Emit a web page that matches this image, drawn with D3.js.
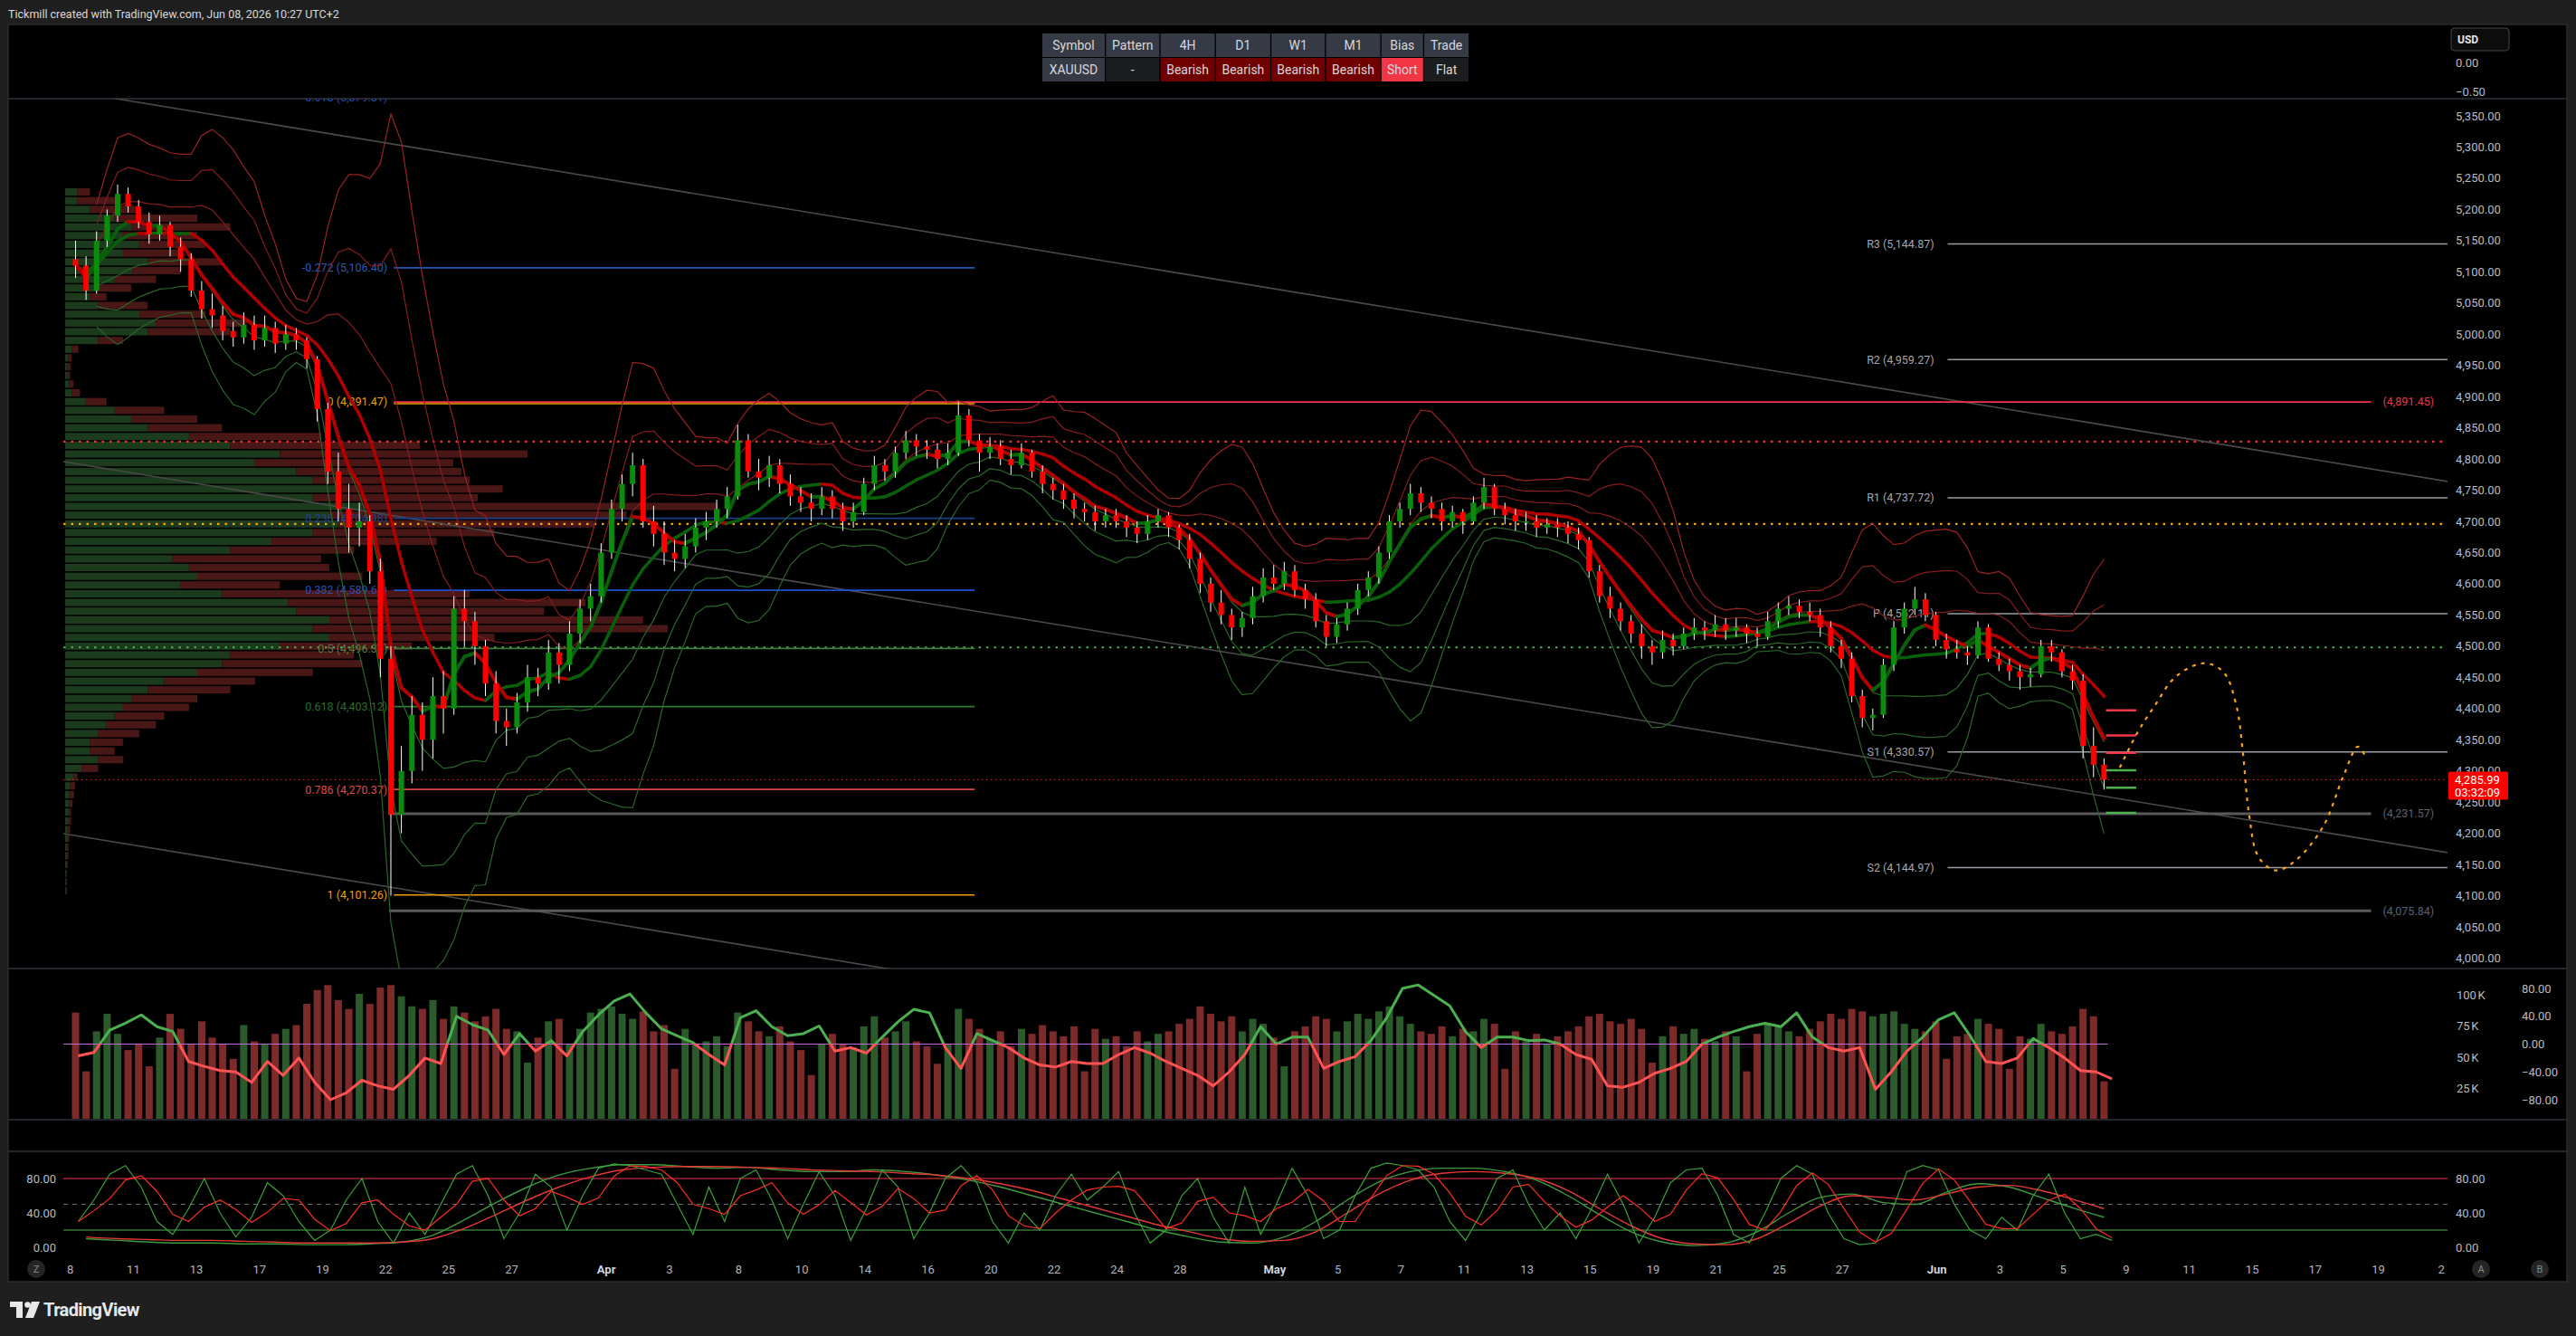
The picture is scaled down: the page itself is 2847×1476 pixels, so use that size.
<!DOCTYPE html>
<html><head><meta charset="utf-8">
<script src="https://cdn.jsdelivr.net/npm/d3@7"></script>
<style>
html,body{margin:0;padding:0;background:#1f1f1f;overflow:hidden;}
svg{display:block;font-family:Roboto,"Noto Sans",sans-serif;}
</style></head><body>
<svg id="c" width="2847" height="1476"></svg>
<script>
// ---------------- DATA ----------------
// 8-hour candles [open, high, low, close]
const candles = [
[5120,5150,5090,5110],[5110,5125,5055,5070],[5070,5165,5065,5150],
[5150,5200,5140,5190],[5190,5240,5180,5225],[5225,5235,5195,5205],
[5205,5215,5170,5180],[5180,5195,5145,5160],[5160,5190,5150,5175],
[5175,5180,5125,5140],[5140,5155,5100,5120],[5120,5130,5060,5070],
[5070,5085,5025,5040],[5040,5065,5010,5030],[5030,5045,4990,5005],
[5005,5020,4980,4995],[4995,5035,4985,5015],[5015,5030,4975,4990],
[4990,5030,4980,5010],[5010,5020,4970,4985],[4985,5015,4975,5000],
[5000,5010,4975,4990],[4990,4995,4945,4960],[4960,4965,4860,4880],
[4880,4890,4760,4780],[4780,4810,4700,4720],[4720,4760,4650,4690],
[4690,4730,4660,4700],[4700,4710,4600,4620],[4620,4640,4450,4480],
[4480,4500,4100,4230],[4230,4340,4200,4300],[4300,4420,4280,4390],
[4390,4410,4300,4350],[4350,4450,4320,4420],[4420,4460,4360,4400],
[4400,4580,4390,4560],[4560,4590,4500,4540],[4540,4555,4470,4500],
[4500,4510,4420,4440],[4440,4460,4360,4380],[4380,4400,4340,4370],
[4370,4425,4360,4410],[4410,4470,4395,4450],[4450,4465,4420,4440],
[4440,4510,4430,4490],[4490,4505,4440,4470],[4470,4540,4460,4520],
[4520,4575,4505,4560],[4560,4600,4540,4580],[4580,4665,4570,4650],
[4650,4735,4640,4720],[4720,4775,4700,4760],[4760,4810,4740,4790],
[4790,4800,4690,4700],[4700,4725,4660,4680],[4680,4700,4630,4650],
[4650,4670,4620,4640],[4640,4680,4625,4660],[4660,4705,4650,4690],
[4690,4715,4670,4700],[4700,4735,4690,4720],[4720,4755,4705,4740],
[4740,4855,4735,4830],[4830,4840,4770,4780],[4780,4800,4750,4770],
[4770,4805,4755,4790],[4790,4800,4745,4760],[4760,4775,4725,4740],
[4740,4755,4715,4730],[4730,4745,4700,4720],[4720,4755,4710,4740],
[4740,4750,4705,4720],[4720,4730,4685,4700],[4700,4730,4690,4715],
[4715,4770,4710,4760],[4760,4805,4750,4790],[4790,4800,4765,4780],
[4780,4820,4770,4810],[4810,4845,4800,4830],[4830,4840,4805,4820],
[4820,4830,4800,4815],[4815,4825,4785,4800],[4800,4825,4790,4810],
[4810,4892,4805,4870],[4870,4880,4820,4830],[4830,4840,4780,4810],
[4810,4835,4800,4820],[4820,4830,4790,4800],[4800,4815,4775,4790],
[4790,4825,4785,4810],[4810,4815,4770,4780],[4780,4790,4745,4760],
[4760,4770,4735,4750],[4750,4760,4720,4735],[4735,4745,4705,4720],
[4720,4730,4700,4715],[4715,4725,4685,4700],[4700,4720,4690,4710],
[4710,4720,4690,4700],[4700,4710,4675,4690],[4690,4700,4665,4680],
[4680,4710,4670,4700],[4700,4720,4690,4710],[4710,4715,4675,4690],
[4690,4695,4655,4670],[4670,4680,4625,4640],[4640,4650,4585,4600],
[4600,4610,4555,4570],[4570,4590,4535,4550],[4550,4560,4510,4530],
[4530,4555,4515,4545],[4545,4595,4535,4580],[4580,4625,4570,4610],
[4610,4630,4590,4600],[4600,4635,4590,4620],[4620,4630,4580,4590],
[4590,4600,4560,4575],[4575,4585,4530,4540],[4540,4550,4500,4515],
[4515,4545,4505,4535],[4535,4570,4525,4560],[4560,4600,4550,4590],
[4590,4620,4580,4610],[4610,4660,4600,4650],[4650,4710,4640,4700],
[4700,4730,4690,4720],[4720,4760,4710,4745],[4745,4755,4715,4730],
[4730,4740,4705,4720],[4720,4730,4685,4700],[4700,4725,4690,4715],
[4715,4720,4680,4700],[4700,4740,4695,4730],[4730,4770,4720,4755],
[4755,4760,4710,4720],[4720,4730,4695,4710],[4710,4720,4685,4700],
[4700,4715,4685,4700],[4700,4710,4675,4690],[4690,4705,4680,4695],
[4695,4705,4675,4690],[4690,4700,4665,4680],[4680,4690,4655,4670],
[4670,4675,4610,4620],[4620,4630,4570,4580],[4580,4595,4545,4560],
[4560,4570,4525,4540],[4540,4550,4505,4520],[4520,4535,4480,4500],
[4500,4510,4470,4490],[4490,4525,4480,4510],[4510,4520,4485,4500],
[4500,4530,4495,4520],[4520,4545,4510,4530],[4530,4540,4510,4525],
[4525,4550,4515,4535],[4535,4545,4510,4525],[4525,4545,4515,4530],
[4530,4535,4505,4520],[4520,4530,4500,4515],[4515,4555,4510,4540],
[4540,4570,4530,4560],[4560,4580,4550,4565],[4565,4575,4545,4555],
[4555,4570,4540,4550],[4550,4560,4515,4530],[4530,4540,4490,4500],
[4500,4510,4465,4480],[4480,4490,4410,4420],[4420,4430,4370,4385],
[4385,4400,4365,4390],[4390,4480,4385,4470],[4470,4540,4460,4530],
[4530,4570,4520,4560],[4560,4595,4550,4575],[4575,4585,4540,4550],
[4550,4555,4500,4510],[4510,4520,4480,4495],[4495,4510,4480,4490],
[4490,4500,4470,4485],[4485,4540,4480,4530],[4530,4535,4475,4480],
[4480,4490,4460,4470],[4470,4480,4445,4460],[4460,4470,4430,4450],
[4450,4465,4435,4455],[4455,4510,4450,4500],[4500,4510,4475,4490],
[4490,4495,4450,4460],[4460,4470,4430,4445],[4445,4455,4320,4340],
[4340,4370,4290,4310],[4310,4320,4270,4285.99]
];
// volume per candle (thousands)
const volumes = [
85,38,70, 84,68,55, 60,42,65, 84,72,60, 78,65,60, 48,75,62, 60,68,72, 75,92,103,
107,95,88, 100,92,105, 107,98,90, 88,95,80, 90,85,78, 82,88,72, 70,45,65, 78,80,60,
72,85,88, 90,84,80, 86,70,75, 40,72,60, 62,66,58, 85,78,70, 66,74,62, 55,35,60,
68,60,57, 74,82,65, 70,78,62, 58,44,60, 88,80,72, 64,70,58, 72,68,75, 70,66,74,
38,72,64, 66,58,70, 62,68,70, 76,80,90, 84,78,82, 70,80,76, 65,42,70, 74,82,80,
70,78,84, 80,86,90, 82,76,70, 68,74,66, 72,70,80, 76,40,70, 62,68,60, 66,70,74,
82,84,78, 76,80,72, 45,66,74, 68,72,64, 62,70,66, 38,68,76, 74,70,66, 72,78,84,
80,88,86, 82,84,86, 76,72,70, 78,48,66, 68,80,76, 72,40,66, 64,76,70, 68,74,88,
82,30
];
// volume oscillator, two readings per day
const oscValues = [
-17,-12,20,30,42,25,18,-25,-32,-38,
-40,-55,-25,-45,-20,-55,-80,-70,-52,-60,
-65,-45,-20,-28,40,28,20,-15,15,-10,
5,-17,18,42,62,72,45,22,12,2,
-15,-30,38,48,25,12,15,26,-10,-5,
-13,10,32,50,45,-5,-35,15,5,-5,
-20,-30,-33,-25,-28,-28,-15,-5,-13,-25,
-35,-45,-60,-40,-15,25,0,10,10,-35,
-25,-18,5,38,80,85,70,55,18,-5,
10,10,5,6,0,-15,-22,-60,-62,-55,
-42,-35,-25,0,10,18,25,30,25,45,
10,-5,-10,-5,-65,-40,-10,10,35,45,
12,-25,-28,-20,8,-5,-20,-38,-40,-50];
// stochastic %K, two readings per day
const stochK = [
30,55,85,95,70,30,15,45,80,40,
12,35,75,60,30,8,20,55,80,30,
5,40,15,50,85,95,60,10,40,85,
70,20,60,92,97,95,90,85,50,15,
70,30,80,90,55,10,50,88,60,8,
45,90,70,10,40,80,95,75,30,5,
40,20,60,85,55,70,88,40,5,20,
60,80,35,5,70,15,50,92,60,10,
20,60,92,98,95,90,70,30,8,40,
80,90,50,20,40,10,45,85,50,5,
35,75,90,92,60,15,5,40,80,95,
85,40,10,3,5,40,88,95,90,50,
20,10,35,20,60,85,40,10,15,8];
// slow stochastic lines, one reading per day
const stochSlowRed = [12,10,9,8,8,7, 6,5,5,5,6,10, 22,38,55,70,82,90, 93,94,94,93,92,90,
 89,88,86,84,80,74, 66,56,46,36,26,18, 10,7,8,18,40,62, 78,86,88,86,80,66,
 45,25,10,4,3,10, 28,48,60,58,55,62, 70,72,66,56,45];
const stochSlowGreen = [10,8,6,5,5,4, 4,3,3,4,6,14, 32,52,70,84,92,96, 96,94,92,93,90,88,
 88,90,88,84,78,70, 60,50,40,30,20,12, 6,5,12,30,55,76, 88,92,92,88,78,60,
 38,18,6,2,5,18, 40,58,62,52,50,64, 74,70,58,46,35];
// volume profile rows (top row starts at 5,235, 14 per row)
const profileTopPrice = 5235, profileRowSize = 14;
const profileUp = [15,15,30,60,80,70,90,70,100,80,60,40,30,40,90,110,100,40,8,4,
3,3,5,8,25,60,80,100,150,200,260,230,280,300,330,300,360,320,330,300,
250,200,130,150,160,140,190,270,280,320,300,320,260,200,190,160,120,100,80,70,
60,50,40,30,30,40,20,10,6,5,5,4,4,3,3,2,2,2,1,1,1];
const profileDown = [15,50,60,100,120,90,80,70,90,60,50,40,20,60,80,110,100,30,8,4,
4,3,5,10,25,60,80,90,160,230,300,240,200,190,200,200,430,360,310,220,
200,150,180,170,200,120,300,360,300,380,430,200,160,150,170,140,110,100,80,80,
60,60,50,40,30,30,20,5,6,6,4,3,3,3,2,2,2,1,1,1,1];
// axes
const priceTicks = [5350,5300,5250,5200,5150,5100,5050,5000,4950,4900,4850,4800,4750,4700,
 4650,4600,4550,4500,4450,4400,4350,4300,4250,4200,4150,4100,4050,4000];
const volTicks = [100,75,50,25];
const oscTicks = [80,40,0,-40,-80];
const stochTicks = [80,40,0];
const timeTickLabels = ["8","11","13","17","19","22","25","27","Apr","3","8","10","14","16","20","22","24","28",
 "May","5","7","11","13","15","19","21","25","27","Jun","3","5","9","11","15","17","19","2"];
const timeTickDays = [0,2,4,6,8,10,12,14,17,19,21.2,23.2,25.2,27.2,29.2,31.2,33.2,35.2,
 38.2,40.2,42.2,44.2,46.2,48.2,50.2,52.2,54.2,56.2,59.2,61.2,63.2,65.2,67.2,69.2,71.2,73.2,75.2];
// fibonacci retracement
const fibRatios = ["-0.618","-0.272","0","0.236","0.382","0.5","0.618","0.786","1"];
const fibPrices = [5379.81,5106.40,4891.47,4704.98,4589.61,4496.37,4403.12,4270.37,4101.26];
const fibSpan = [10.26, 28.68];
// pivots
const pivotNames = ["R3","R2","R1","P","S1","S2"];
const pivotPrices = [5144.87,4959.27,4737.72,4552.11,4330.57,4144.97];
const pivotStart = 59.54;
// horizontal rays
const rayPrices = [4891.45, 4231.57, 4075.84];
const rayStarts = [10.26, 10.11, 10.11];
const rayEnd = 72.97;
const dottedLevels = [4828, 4696, 4498];
const lastPrice = 4285.99, countdown = "03:32:09";
// channel trendlines [day1, price1, day2, price2]
const trendlines = [[1.4,5378,75.41,4763.9],[-0.22,4795.8,75.41,4169],[-0.22,4199.6,75.41,3572.9]];
// projected path
const projection = [[65.0,4305.5],[65.55,4360.6],[66.1,4404],[66.8,4452.4],[67.7,4472.7],[68.3,4457.7],
 [68.7,4404],[68.9,4331],[69.1,4230],[69.4,4162],[69.95,4140.5],[70.6,4157.5],[71.45,4211],
 [72.1,4293],[72.55,4339],[72.8,4322]];
const targetsUp = [4397,4357,4329], targetsDown = [4301,4273,4233], targetSpan = [64.56,65.52];
// table
const tableHeader = ["Symbol","Pattern","4H","D1","W1","M1","Bias","Trade"];
const tableRow = ["XAUUSD","-","Bearish","Bearish","Bearish","Bearish","Short","Flat"];

// ---------------- LAYOUT / STYLE ----------------
const W=2847,H=1476, L=9, R=2705, AX=2837;
const svg=d3.select("#c");
const defs=svg.append("defs");
function clip(id,x,y,w,h){defs.append("clipPath").attr("id",id).append("rect").attr("x",x).attr("y",y).attr("width",w).attr("height",h);}
clip("cpPrice",L,109,R-L,961); clip("cpVol",L,1070,R-L,167); clip("cpSt",L,1272,R-L,120);

svg.append("rect").attr("width",W).attr("height",H).attr("fill","#1f1f1f");
svg.append("rect").attr("x",L).attr("y",27).attr("width",AX-L).attr("height",1389).attr("fill","#000").attr("stroke","#2c2c2c").attr("stroke-width",1.5);
svg.append("text").attr("x",9).attr("y",20).attr("fill","#d8d8d8").attr("font-size",12.5)
  .text("Tickmill created with TradingView.com, Jun 08, 2026 10:27 UTC+2");

[109,1070,1237,1272].forEach(v=>svg.append("line").attr("x1",L).attr("x2",AX).attr("y1",v).attr("y2",v).attr("stroke","#30333d").attr("stroke-width",1.5));

const x=d3.scaleLinear().domain([0,59.2]).range([77.7,2140.7]);
const y=d3.scaleLinear().domain([5350,4000]).range([128,1058.5]);
const cx=i=>x((i+0.5)/3);
const fmt=d3.format(",.2f");

// ---------- price pane ----------
const P=svg.append("g").attr("clip-path","url(#cpPrice)");
// volume profile
const profX=d3.scaleLinear().domain([0,800]).range([0,730]);
const rowH=Math.abs(y(0)-y(profileRowSize));
profileUp.forEach((g,k)=>{
  const yc=y(profileTopPrice-profileRowSize*k-profileRowSize/2);
  P.append("rect").attr("x",72).attr("y",yc-rowH/2+0.8).attr("width",profX(g)).attr("height",rowH-1.6).attr("fill","#1c3b1c");
  P.append("rect").attr("x",72+profX(g)).attr("y",yc-rowH/2+0.8).attr("width",profX(profileDown[k])).attr("height",rowH-1.6).attr("fill","#4a1717");
});
// dotted levels
const dotCols=["#ff3030","#ffa500","#4caf50"];
dottedLevels.forEach((p,i)=>P.append("line").attr("x1",70).attr("x2",R).attr("y1",y(p)).attr("y2",y(p))
  .attr("stroke",dotCols[i]).attr("stroke-width",2.2).attr("stroke-dasharray","2.5,6"));
P.append("line").attr("x1",70).attr("x2",R).attr("y1",y(lastPrice)).attr("y2",y(lastPrice))
  .attr("stroke","#ff2020").attr("stroke-width",1).attr("stroke-dasharray","1.5,3.5");
// trendlines
trendlines.forEach(t=>P.append("line").attr("x1",x(t[0])).attr("y1",y(t[1])).attr("x2",x(t[2])).attr("y2",y(t[3]))
  .attr("stroke","#4a4a4a").attr("stroke-width",1.6));
// rays
const rayCols=["#f23645","#5a5a5a","#5a5a5a"];
rayPrices.forEach((p,i)=>{
  P.append("line").attr("x1",x(rayStarts[i])).attr("x2",x(rayEnd)).attr("y1",y(p)).attr("y2",y(p))
   .attr("stroke",rayCols[i]).attr("stroke-width",i?3:1.8);
  P.append("text").attr("x",x(rayEnd)+13).attr("y",y(p)).attr("dy","0.35em").attr("font-size",12.5)
   .attr("fill",i?"#5d606b":"#f23645").text("("+fmt(p)+")");
});
// fib
const fibLine=["#1f4ea8","#2157b5","#f29f05","#1d3f8a","#1e4fd0","#3d7d3d","#2e7d32","#d94848","#f29f05"];
const fibText=["#1f4ea8","#2a5cb5","#f29f05","#23418a","#2c4fb0","#5d7a44","#2e6b2e","#e04848","#f29f05"];
fibPrices.forEach((p,i)=>{
  P.append("line").attr("x1",x(fibSpan[0])).attr("x2",x(fibSpan[1])).attr("y1",y(p)+(i==2?2:0)).attr("y2",y(p)+(i==2?2:0))
   .attr("stroke",fibLine[i]).attr("stroke-width",1.6);
  P.append("text").attr("x",x(fibSpan[0])-7).attr("y",y(p)).attr("dy","0.35em").attr("text-anchor","end")
   .attr("font-size",12.5).attr("fill",fibText[i]).text(fibRatios[i]+" ("+fmt(p)+")");
});
// pivots
pivotPrices.forEach((p,i)=>{
  P.append("line").attr("x1",x(pivotStart)).attr("x2",R).attr("y1",y(p)).attr("y2",y(p)).attr("stroke","#9a9da5").attr("stroke-width",1.5);
  P.append("text").attr("x",x(pivotStart)-15).attr("y",y(p)).attr("dy","0.35em").attr("text-anchor","end")
   .attr("font-size",12.5).attr("fill","#a3a6ae").text(pivotNames[i]+" ("+fmt(p)+")");
});
// bands (10-bar basis, 1/2/3 standard deviations) and moving averages
const closes=candles.map(c=>c[3]);
const N=10;
const bb=closes.map((c,i)=>{const s=closes.slice(Math.max(0,i-N+1),i+1);const m=d3.mean(s);
  const sd=Math.sqrt(d3.mean(s,v=>(v-m)*(v-m)));return {m,sd};});
const ema=[];const ka=2/(5+1);closes.forEach((c,i)=>ema.push(i?ema[i-1]+ka*(c-ema[i-1]):c));
const lineGen=d3.line().x(d=>d[0]).y(d=>d[1]);
[1,2,3].forEach(k=>{
  const up=bb.map((b,i)=>[cx(i),y(b.m+k*b.sd)]).slice(2);
  const dn=bb.map((b,i)=>[cx(i),y(b.m-k*b.sd)]).slice(2);
  P.append("path").attr("d",lineGen(up)).attr("fill","none").attr("stroke",k==3?"#9a2222":"#861d1d").attr("stroke-width",1.2);
  P.append("path").attr("d",lineGen(dn)).attr("fill","none").attr("stroke","#2a662a").attr("stroke-width",1.2);
});
function slopeLine(vals,w){
  for(let i=1;i<vals.length;i++){
    P.append("line").attr("x1",cx(i-1)).attr("y1",y(vals[i-1])).attr("x2",cx(i)).attr("y2",y(vals[i]))
     .attr("stroke",vals[i]>=vals[i-1]?"#0a600a":"#b00000").attr("stroke-width",w).attr("stroke-linecap","round");
  }
}
slopeLine(bb.map(b=>b.m),3.5);
slopeLine(ema,4);
// candles
candles.forEach((c,i)=>{
  const [o,h,l,cl]=c, X=cx(i);
  P.append("line").attr("x1",X).attr("x2",X).attr("y1",y(h)).attr("y2",y(l)).attr("stroke","#ffffff").attr("stroke-width",1);
  const top=y(Math.max(o,cl)), bot=y(Math.min(o,cl));
  P.append("rect").attr("x",X-3).attr("y",top).attr("width",6).attr("height",Math.max(1.2,bot-top))
   .attr("fill",cl>=o?"#0c8c0c":"#ff0000");
});
// targets
targetsUp.forEach(p=>P.append("line").attr("x1",x(targetSpan[0])).attr("x2",x(targetSpan[1])).attr("y1",y(p)).attr("y2",y(p)).attr("stroke","#f23645").attr("stroke-width",2.5));
targetsDown.forEach(p=>P.append("line").attr("x1",x(targetSpan[0])).attr("x2",x(targetSpan[1])).attr("y1",y(p)).attr("y2",y(p)).attr("stroke","#4caf50").attr("stroke-width",2.5));
// projection
P.append("path").attr("d",d3.line().x(d=>x(d[0])).y(d=>y(d[1])).curve(d3.curveCatmullRom)(projection))
 .attr("fill","none").attr("stroke","#f7a21b").attr("stroke-width",2.2).attr("stroke-dasharray","4,6");

// price axis
priceTicks.forEach(p=>svg.append("text").attr("x",2714).attr("y",y(p)).attr("dy","0.35em").attr("font-size",13)
  .attr("fill","#b8bbc2").text(fmt(p)));
svg.append("rect").attr("x",2706).attr("y",y(lastPrice)-9).attr("width",66).attr("height",31).attr("rx",1.5).attr("fill","#ff0000");
svg.append("text").attr("x",2713).attr("y",y(lastPrice)+4.5).attr("font-size",13).attr("fill","#fff").text(fmt(lastPrice));
svg.append("text").attr("x",2713).attr("y",y(lastPrice)+18.5).attr("font-size",13).attr("fill","#fff").text(countdown);

// top pane: USD + table
svg.append("rect").attr("x",2709).attr("y",31).attr("width",64).attr("height",25).attr("rx",4).attr("fill","#0c0c0c").attr("stroke","#474747");
svg.append("text").attr("x",2716).attr("y",48).attr("font-size",12).attr("font-weight","bold").attr("fill","#e6e6e6").text("USD");
svg.append("text").attr("x",2714).attr("y",69).attr("dy","0.35em").attr("font-size",13).attr("fill","#b8bbc2").text("0.00");
svg.append("text").attr("x",2714).attr("y",101).attr("dy","0.35em").attr("font-size",13).attr("fill","#b8bbc2").text("\u22120.50");
const colW=[69,59,60,60,59,60,46,49];
const rowFill=["#363a45","#1c1d21","#700000","#700000","#700000","#700000","#f23645","#1c1d21"];
let cxp=1152;
tableHeader.forEach((h,i)=>{
  svg.append("rect").attr("x",cxp).attr("y",37).attr("width",colW[i]).attr("height",26).attr("fill","#363a45");
  svg.append("text").attr("x",cxp+colW[i]/2).attr("y",50).attr("dy","0.36em").attr("text-anchor","middle").attr("font-size",14).attr("fill","#d5d7dd").text(h);
  svg.append("rect").attr("x",cxp).attr("y",64).attr("width",colW[i]).attr("height",26).attr("fill",rowFill[i]);
  svg.append("text").attr("x",cxp+colW[i]/2).attr("y",77).attr("dy","0.36em").attr("text-anchor","middle").attr("font-size",14).attr("fill","#d5d7dd").text(tableRow[i]);
  cxp+=colW[i]+1.3;
});

// ---------- volume pane ----------
const V=svg.append("g").attr("clip-path","url(#cpVol)");
const vy=d3.scaleLinear().domain([0,100]).range([1236,1098]);
const oy=d3.scaleLinear().domain([-80,80]).range([1215,1092]);
volumes.forEach((v,i)=>{
  const c=candles[i];
  V.append("rect").attr("x",cx(i)-4).attr("y",vy(v)).attr("width",8).attr("height",vy(0)-vy(v))
   .attr("fill",c[3]>=c[0]?"#2b5a2b":"#7d2a2a");
});
V.append("line").attr("x1",70).attr("x2",cx(candles.length-1)+4).attr("y1",oy(0)).attr("y2",oy(0)).attr("stroke","#c36bd6").attr("stroke-width",1.2);
const grad=defs.append("linearGradient").attr("id","og").attr("gradientUnits","userSpaceOnUse").attr("x1",0).attr("x2",0).attr("y1",oy(80)).attr("y2",oy(-80));
grad.append("stop").attr("offset","0.5").attr("stop-color","#4caf50");
grad.append("stop").attr("offset","0.5").attr("stop-color","#ff5252");
V.append("path").attr("d",d3.line().x((d,i)=>x(0.25+0.5*i)).y(d=>oy(d))(oscValues))
 .attr("fill","none").attr("stroke","url(#og)").attr("stroke-width",3).attr("stroke-linejoin","round");
volTicks.forEach(v=>svg.append("text").attr("x",2715).attr("y",vy(v)+1).attr("dy","0.35em").attr("font-size",13).attr("fill","#b8bbc2").text(v+"\u202fK"));
oscTicks.forEach(v=>svg.append("text").attr("x",2787).attr("y",oy(v)).attr("dy","0.35em").attr("font-size",13).attr("fill","#b8bbc2").text(fmt(v)));

// ---------- stochastic pane ----------
const S=svg.append("g").attr("clip-path","url(#cpSt)");
const sy=d3.scaleLinear().domain([0,80]).range([1378,1302]);
S.append("line").attr("x1",70).attr("x2",R).attr("y1",sy(80)).attr("y2",sy(80)).attr("stroke","#f23645").attr("stroke-width",1.2);
S.append("line").attr("x1",70).attr("x2",R).attr("y1",sy(50)).attr("y2",sy(50)).attr("stroke","#6a6d75").attr("stroke-width",1.2).attr("stroke-dasharray","5,5");
S.append("line").attr("x1",70).attr("x2",R).attr("y1",sy(20)).attr("y2",sy(20)).attr("stroke","#4caf50").attr("stroke-width",1.2);
const stochD=stochK.map((v,i)=>d3.mean(stochK.slice(Math.max(0,i-2),i+1)));
const sl=(arr,off,step,cv)=>d3.line().x((d,i)=>x(off+step*i)).y(d=>sy(d)).curve(cv)(arr);
S.append("path").attr("d",sl(stochSlowGreen,0.5,1,d3.curveMonotoneX)).attr("fill","none").attr("stroke","#3f9a3f").attr("stroke-width",1.4);
S.append("path").attr("d",sl(stochSlowRed,0.5,1,d3.curveMonotoneX)).attr("fill","none").attr("stroke","#e53935").attr("stroke-width",1.4);
S.append("path").attr("d",sl(stochK,0.25,0.5,d3.curveLinear)).attr("fill","none").attr("stroke","#3aa13a").attr("stroke-width",1.2);
S.append("path").attr("d",sl(stochD,0.25,0.5,d3.curveLinear)).attr("fill","none").attr("stroke","#ff2d20").attr("stroke-width",1.2);
stochTicks.forEach(v=>{
  svg.append("text").attr("x",2714).attr("y",sy(v)).attr("dy","0.35em").attr("font-size",13).attr("fill","#b8bbc2").text(fmt(v));
  svg.append("text").attr("x",62).attr("y",sy(v)).attr("dy","0.35em").attr("text-anchor","end").attr("font-size",13).attr("fill","#b8bbc2").text(fmt(v));
});

// ---------- time axis ----------
timeTickLabels.forEach((t,i)=>{
  const month=isNaN(+t);
  svg.append("text").attr("x",x(timeTickDays[i])).attr("y",1402).attr("dy","0.35em").attr("text-anchor","middle")
   .attr("font-size",13).attr("font-weight",month?"bold":"normal").attr("fill",month?"#d1d4dc":"#b2b5be").text(t);
});
[["Z",40],["A",2742],["B",2807]].forEach(b=>{
  svg.append("circle").attr("cx",b[1]).attr("cy",1402).attr("r",10).attr("fill","#252525");
  svg.append("text").attr("x",b[1]).attr("y",1402).attr("dy","0.35em").attr("text-anchor","middle").attr("font-size",11).attr("fill","#8a8a8a").text(b[0]);
});

// ---------- footer logo ----------
const lg=svg.append("g").attr("fill","#e8e8e8");
lg.append("rect").attr("x",11).attr("y",1438).attr("width",14).attr("height",6);
lg.append("rect").attr("x",18).attr("y",1438).attr("width",7).attr("height",18);
lg.append("circle").attr("cx",30.5).attr("cy",1441.5).attr("r",3.3);
lg.append("path").attr("d","M35 1438 L44 1438 L37 1456 L28 1456 Z");
svg.append("text").attr("x",48).attr("y",1454).attr("font-size",20).attr("font-weight","bold").attr("letter-spacing","-0.6").attr("fill","#e8e8e8").text("TradingView");
</script>
</body></html>
